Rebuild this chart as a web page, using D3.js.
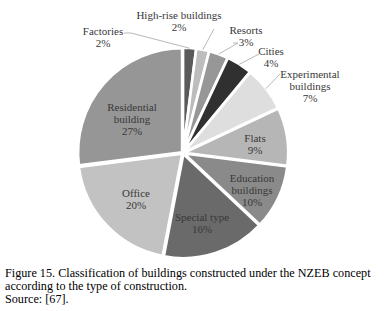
<!DOCTYPE html>
<html><head><meta charset="utf-8">
<script src="https://cdn.jsdelivr.net/npm/d3@7"></script>
<style>
html,body{margin:0;padding:0;background:#fff;}
svg{display:block;}
text{font-family:"Liberation Serif","Times New Roman",serif;}
</style></head>
<body>
<svg id="chart" width="384" height="311"></svg>
<script>
// ---- data ----
const categories = ["Factories","High-rise buildings","Resorts","Cities","Experimental buildings","Flats","Education buildings","Special type","Office","Residential building"];
const values = [2,2,3,4,7,9,10,16,20,27];
const labelLines = [["Factories","2%"],["High-rise buildings","2%"],["Resorts","3%"],["Cities","4%"],["Experimental","buildings","7%"],["Flats","9%"],["Education","buildings","10%"],["Special type","16%"],["Office","20%"],["Residential","building","27%"]];
const captionLines = ["Figure 15. Classification of buildings constructed under the NZEB concept","according to the type of construction.","Source: [67]."];

// ---- styling / layout ----
const colors = ["#5a5a5a","#bdbdbd","#979797","#303030","#dedede","#b6b6b6","#8a8a8a","#6a6a6a","#c2c2c2","#969696"];
const cx = 183, cy = 153, R = 104;
// label block centres relative to pie centre (layout only)
const labelPos = [[-80,-116],[-4,-132],[63,-117],[88,-96],[127,-67],[72,-9],[69,37],[19,70],[-47,46],[-51,-34]];
const outside = [true,true,true,true,true,false,false,false,false,false];
// leader start points relative to pie centre
const leaderStart = [[-59,-120,-52],[31,-124,null],[50,-110,55],[76,-99,null],[97,-79,null]];

const svg = d3.select("#chart");
const pie = d3.pie().sort(null).value(d=>d).startAngle(0).endAngle(2*Math.PI);
const arcs = pie(values);
const arc = d3.arc().innerRadius(0).outerRadius(R);
const g = svg.append("g").attr("transform",`translate(${cx},${cy})`);

g.selectAll("path.slice").data(arcs).join("path")
  .attr("class","slice")
  .attr("d",arc)
  .attr("transform",d=>{const a=(d.startAngle+d.endAngle)/2;const e=1.2;return `translate(${e*Math.sin(a)},${-e*Math.cos(a)})`;})
  .attr("fill",(d,i)=>colors[i])
  .attr("stroke","#fff").attr("stroke-width",2.6).attr("stroke-linejoin","miter");

// leader lines
arcs.forEach((d,i)=>{
  if(!outside[i]) return;
  const a=(d.startAngle+d.endAngle)/2;
  const ex=(R+1)*Math.sin(a), ey=-(R+1)*Math.cos(a);
  const s=leaderStart[i];
  const pts=[[s[0],s[1]]];
  if(s[2]!==null) pts.push([s[2],s[1]]);
  pts.push([ex,ey]);
  g.append("path").attr("d",d3.line()(pts)).attr("fill","none").attr("stroke","#a6a6a6").attr("stroke-width",0.8);
});

// labels
const fs=11, lh=12;
labelLines.forEach((lines,i)=>{
  const [lx,ly]=labelPos[i];
  const t=g.append("text").attr("text-anchor","middle").attr("font-size",fs).attr("fill","#383838");
  const n=lines.length;
  lines.forEach((s,k)=>{
    t.append("tspan").attr("x",lx).attr("y",ly+(k-(n-1)/2)*lh+4).text(s);
  });
});

// caption
captionLines.forEach((s,k)=>{
  svg.append("text").attr("x",5).attr("y",277+k*13).attr("font-size",12.2).attr("fill","#000").text(s);
});
</script>
</body></html>
